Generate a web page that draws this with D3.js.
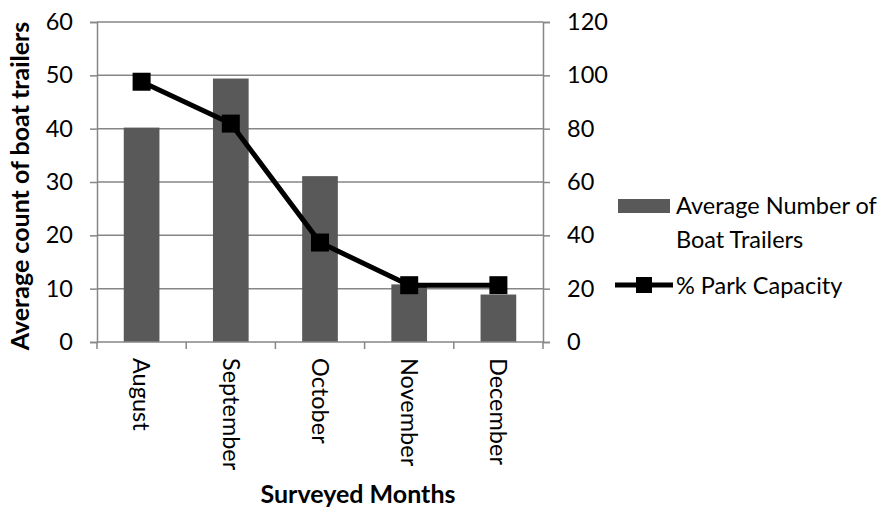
<!DOCTYPE html>
<html>
<head>
<meta charset="utf-8">
<script src="https://cdn.jsdelivr.net/npm/d3@7"></script>
<style>
  html, body { margin: 0; padding: 0; background: #fff; }
  svg { display: block; }
  text { font-family: Lato, "Noto Sans", sans-serif; fill: #000; }
</style>
</head>
<body>
<svg id="chart" width="891" height="513"></svg>
<script>
// Monthly survey of boat trailers at the park
const months = ["August", "September", "October", "November", "December"];
const trailerCounts = [40.2, 49.4, 31.1, 10.8, 8.9];
const parkCapacity = [97.6, 81.9, 37.3, 21.3, 21.3];
const leftTicks = [0, 10, 20, 30, 40, 50, 60];
const rightTicks = [0, 20, 40, 60, 80, 100, 120];
const barLabel = ["Average Number of", "Boat Trailers"];
const lineLabel = "% Park Capacity";

const svg = d3.select("#chart");
const plot = { left: 97, right: 543, top: 22, bottom: 342 };
const axisColor = "#868686";
const barColor = "#595959";
const fontSize = 23.5;
const titleSize = 25;

const x = d3.scaleBand().domain(months).range([plot.left, plot.right]).paddingInner(0.6).paddingOuter(0.3);
const xOuter = d3.scaleBand().domain(months).range([plot.left, plot.right]);
const yLeft = d3.scaleLinear().domain([0, 60]).range([plot.bottom, plot.top]);
const yRight = d3.scaleLinear().domain([0, 120]).range([plot.bottom, plot.top]);

// horizontal gridlines
svg.append("g")
  .selectAll("line")
  .data(leftTicks.filter(d => d > 0))
  .join("line")
  .attr("x1", plot.left).attr("x2", plot.right)
  .attr("y1", d => yLeft(d)).attr("y2", d => yLeft(d))
  .attr("stroke", axisColor).attr("stroke-width", 1.5);

// bars
svg.append("g")
  .selectAll("rect")
  .data(months)
  .join("rect")
  .attr("x", d => x(d))
  .attr("width", x.bandwidth())
  .attr("y", (d, i) => yLeft(trailerCounts[i]))
  .attr("height", (d, i) => yLeft(0) - yLeft(trailerCounts[i]))
  .attr("fill", barColor);

// left axis
const gL = svg.append("g").attr("transform", `translate(${plot.left},0)`)
  .call(d3.axisLeft(yLeft).tickValues(leftTicks).tickSize(7).tickPadding(17));
// right axis
const gR = svg.append("g").attr("transform", `translate(${plot.right},0)`)
  .call(d3.axisRight(yRight).tickValues(rightTicks).tickSize(7).tickPadding(17));
// bottom axis with ticks at category boundaries
const boundaries = months.map(m => xOuter(m)).concat([plot.right]);
const gB = svg.append("g").attr("transform", `translate(0,${plot.bottom})`);
gB.append("line").attr("x1", plot.left).attr("x2", plot.right).attr("stroke", axisColor).attr("stroke-width", 1.5);
gB.selectAll("line.tk").data(boundaries).join("line").attr("class", "tk")
  .attr("x1", d => d).attr("x2", d => d).attr("y1", 0).attr("y2", 7)
  .attr("stroke", axisColor).attr("stroke-width", 1.5);

[gL, gR].forEach(g => {
  g.select(".domain").attr("stroke", axisColor).attr("stroke-width", 1.5);
  g.selectAll(".tick line").attr("stroke", axisColor).attr("stroke-width", 1.5);
  g.selectAll(".tick text").style("font-size", fontSize + "px").style("font-family", "Lato").attr("fill", "#000");
});

// month labels, rotated to read top to bottom
gB.selectAll("text.month").data(months).join("text").attr("class", "month")
  .attr("transform", d => `translate(${xOuter(d) + xOuter.bandwidth() / 2},16) rotate(90)`)
  .attr("dy", "0.35em")
  .style("font-size", fontSize + "px")
  .text(d => d);

// percent capacity line
const line = d3.line().x((d, i) => x(months[i]) + x.bandwidth() / 2).y(d => yRight(d));
svg.append("path").datum(parkCapacity).attr("d", line)
  .attr("fill", "none").attr("stroke", "#000").attr("stroke-width", 5).attr("stroke-linejoin", "round");
const mk = 18;
svg.append("g").selectAll("rect").data(parkCapacity).join("rect")
  .attr("x", (d, i) => x(months[i]) + x.bandwidth() / 2 - mk / 2)
  .attr("y", d => yRight(d) - mk / 2)
  .attr("width", mk).attr("height", mk).attr("fill", "#000");

// axis titles
svg.append("text")
  .attr("transform", `translate(29,186) rotate(-90)`)
  .attr("text-anchor", "middle")
  .style("font-size", titleSize + "px").style("font-weight", "bold")
  .text("Average count of boat trailers");
svg.append("text")
  .attr("x", 358).attr("y", 503)
  .attr("text-anchor", "middle")
  .style("font-size", titleSize + "px").style("font-weight", "bold")
  .text("Surveyed Months");

// legend
const lg = svg.append("g");
lg.append("rect").attr("x", 618).attr("y", 199).attr("width", 52).attr("height", 14).attr("fill", barColor);
lg.selectAll("text.bl").data(barLabel).join("text").attr("class", "bl")
  .attr("x", 676).attr("y", (d, i) => 206 + i * 34).attr("dy", "0.35em")
  .style("font-size", fontSize + "px").text(d => d);
lg.append("line").attr("x1", 615).attr("x2", 673).attr("y1", 285).attr("y2", 285)
  .attr("stroke", "#000").attr("stroke-width", 5);
lg.append("rect").attr("x", 644 - 8).attr("y", 285 - 8).attr("width", 16).attr("height", 16).attr("fill", "#000");
lg.append("text").attr("x", 676).attr("y", 286).attr("dy", "0.35em")
  .style("font-size", fontSize + "px").text(lineLabel);
</script>
</body>
</html>
